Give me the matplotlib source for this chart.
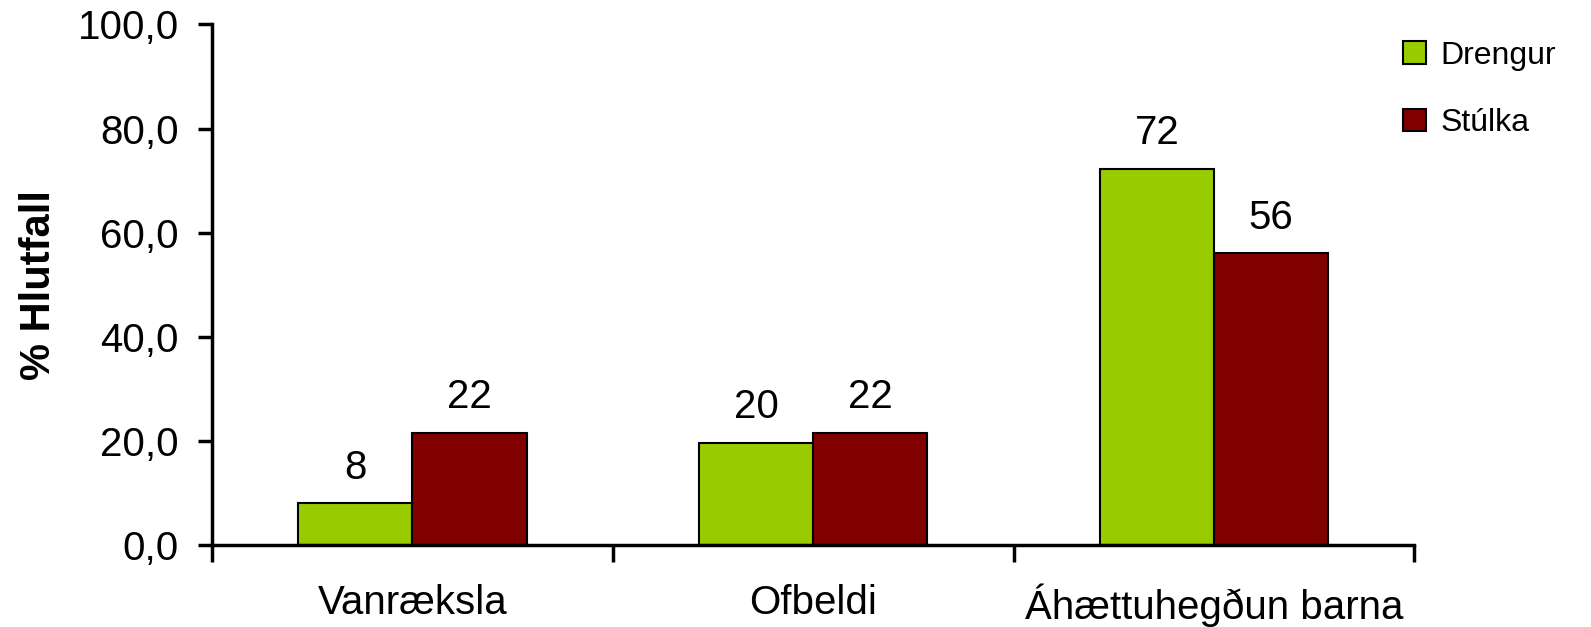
import matplotlib
matplotlib.use("Agg")
import matplotlib.pyplot as plt
import numpy as np

plt.rcParams['font.family'] = ['Liberation Sans', 'DejaVu Sans']

categories = ['Vanræksla', 'Ofbeldi', 'Áhættuhegðun barna']
drengur = [8.0, 19.6, 72.2]
stulka = [21.6, 21.6, 56.0]
series_names = ['Drengur', 'Stúlka']
ytick_labels = ['0,0', '20,0', '40,0', '60,0', '80,0', '100,0']

fig = plt.figure(figsize=(15.91, 6.27), dpi=100)
ax = fig.add_axes([0.1333, 0.1308, 0.7557, 0.8302])

x = np.arange(len(categories))
w = 0.285
b1 = ax.bar(x - w/2, drengur, w, color='#99cc00', edgecolor='black', linewidth=1.5, label=series_names[0])
b2 = ax.bar(x + w/2, stulka, w, color='#800000', edgecolor='black', linewidth=1.5, label=series_names[1])

for bars in (b1, b2):
    for r in bars:
        ax.annotate('%.0f' % r.get_height(), (r.get_x() + r.get_width()/2, r.get_height()),
                    xytext=(0, 12), textcoords='offset points', ha='center', va='bottom', fontsize=29)

ax.set_xlim(-0.5, 2.5)
ax.set_ylim(0, 100)
ax.set_yticks([0, 20, 40, 60, 80, 100])
ax.set_yticklabels(ytick_labels, fontsize=29)
ax.set_xticks(x)
ax.set_xticklabels(categories, fontsize=29)
ax.set_xticks([-0.5, 0.5, 1.5, 2.5], minor=True)
ax.tick_params(axis='x', which='major', length=0, pad=28)
ax.tick_params(axis='x', which='minor', length=12, width=2.5, direction='out')
ax.tick_params(axis='y', length=10, width=2.5, pad=14)

for s in ['top', 'right']:
    ax.spines[s].set_visible(False)
for s in ['left', 'bottom']:
    ax.spines[s].set_linewidth(2.5)

ax.set_ylabel('% Hlutfall', fontsize=30, fontweight='bold')
ax.yaxis.set_label_coords(-0.127, 0.5)

fig.legend(loc='upper left', bbox_to_anchor=(0.882, 0.935), frameon=False, fontsize=23,
           handlelength=0.72, handleheight=0.72, handletextpad=0.45, labelspacing=1.17,
           borderpad=0, borderaxespad=0)

fig.savefig('out.png', dpi=100)
